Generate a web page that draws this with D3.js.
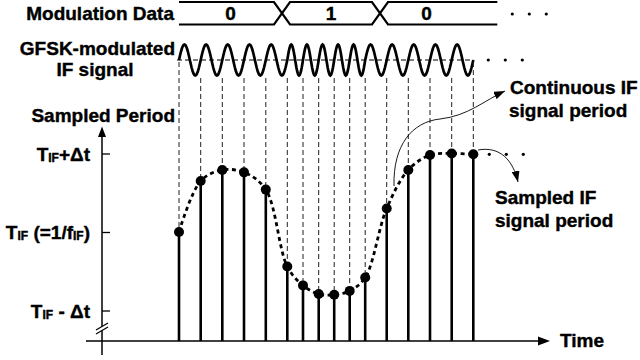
<!DOCTYPE html>
<html>
<head>
<meta charset="utf-8">
<script src="https://cdn.jsdelivr.net/npm/d3@7"></script>
<style>
  body { margin: 0; background: #fff; }
  text { font-family: "Liberation Sans", Arial, sans-serif; font-weight: bold; fill: #000; stroke: #000; stroke-width: 0.4px; }
</style>
</head>
<body>
<svg id="chart" width="640" height="360"></svg>
<script>
// sample instants, in bit periods counted from the first sample
var sampleTimes = [0, 0.217, 0.433, 0.65, 0.868, 1.083, 1.24, 1.397, 1.552, 1.707, 1.862, 2.077, 2.293, 2.51, 2.727, 2.943];
// sampled IF period, in units of delta t around T_IF
var sampledPeriod = [0, 0.65, 0.79, 0.76, 0.54, -0.44, -0.68, -0.79, -0.8, -0.75, -0.58, 0.3, 0.79, 0.98, 1.0, 0.99];
// modulation bits and where each bit starts
var bits = ["0", "1", "0"];
var bitEdges = [0, 1.03, 2.01];
// y ticks: label pieces, odd pieces are subscripts
var tickValues = [1, 0, -1];
var tickLabels = [["T", "IF", "+\u0394t"], ["T", "IF", " (=1/f", "IF", ")"], ["T", "IF", " - \u0394t"]];

var svg = d3.select("#chart");
var x = d3.scaleLinear().domain([-0.77, 3.71]).range([102, 550]);
var y = d3.scaleLinear().domain([-1, 1]).range([310.5, 153.5]);
var waveY = d3.scaleLinear().domain([-1, 1]).range([75.5, 44.5]);
var x0 = x(-0.77), axisY = y(-1) + 30.5;
var tFirst = sampleTimes[0], tLast = sampleTimes[sampleTimes.length - 1];

svg.append("defs").append("marker")
  .attr("id", "arr").attr("markerUnits", "userSpaceOnUse")
  .attr("markerWidth", 11).attr("markerHeight", 8)
  .attr("refX", 11).attr("refY", 4).attr("orient", "auto")
  .append("path").attr("d", "M0,0L11,4L0,8Z").attr("fill", "#000");

// ---- modulation data bus ----
var busTop = 2, busBot = 24.5, hw = 8;
var busEnd = x(tLast) + 24;
function busPath(up) {
  var a = up ? busTop : busBot, b = up ? busBot : busTop;
  var p = "M" + x(bitEdges[0]) + "," + a;
  for (var i = 1; i < bitEdges.length; i++) {
    var xc = x(bitEdges[i]);
    p += "H" + (xc - hw) + "L" + (xc + hw) + "," + b;
    var t = a; a = b; b = t;
  }
  return p + "H" + busEnd;
}
svg.append("path").attr("d", busPath(true)).attr("fill", "none").attr("stroke", "#000").attr("stroke-width", 2.2);
svg.append("path").attr("d", busPath(false)).attr("fill", "none").attr("stroke", "#000").attr("stroke-width", 2.2);
svg.selectAll(".bit").data(bits).enter().append("text")
  .attr("x", function (d, i) {
    var e = i + 1 < bitEdges.length ? bitEdges[i + 1] : tLast;
    return (x(bitEdges[i]) + x(e)) / 2;
  })
  .attr("y", 20).attr("text-anchor", "middle").style("font-size", "19px").text(function (d) { return d; });

// ---- GFSK IF wave: one period between consecutive samples ----
var wavePts = [];
for (var i = 0; i < sampleTimes.length - 1; i++) {
  for (var k = 0; k < 24; k++) {
    var f = k / 24;
    wavePts.push([x(sampleTimes[i] + (sampleTimes[i + 1] - sampleTimes[i]) * f), waveY(Math.sin(2 * Math.PI * f))]);
  }
}
wavePts.push([x(tLast), waveY(0)]);
svg.append("line").attr("x1", x(tFirst) - 2).attr("x2", x(tLast)).attr("y1", waveY(0)).attr("y2", waveY(0))
  .attr("stroke", "#000").attr("stroke-width", 1).attr("stroke-dasharray", "5,3");
svg.append("path").attr("d", d3.line()(wavePts)).attr("fill", "none").attr("stroke", "#000").attr("stroke-width", 2.7);

// ---- axes ----
svg.append("line").attr("x1", x0).attr("x2", x0).attr("y1", axisY + 14).attr("y2", 135)
  .attr("stroke", "#000").attr("stroke-width", 1.5);
svg.append("path").attr("d", "M" + x0 + ",126.5l4,10.5h-8z").attr("fill", "#000");
svg.append("line").attr("x1", x(-0.93)).attr("x2", x(3.62)).attr("y1", axisY).attr("y2", axisY)
  .attr("stroke", "#000").attr("stroke-width", 1.5);
svg.append("path").attr("d", "M" + x(3.71) + "," + axisY + "l-12,-4.5v9z").attr("fill", "#000");

var yAxis = d3.axisRight(y).tickValues(tickValues).tickSize(8).tickFormat("");
var gy = svg.append("g").attr("transform", "translate(" + x0 + ",0)").call(yAxis);
gy.select(".domain").remove();
gy.selectAll("line").attr("stroke-width", 1.3);

// axis break
var by = axisY - 13;
svg.append("path").attr("d", "M" + (x0 - 6) + "," + (by + 2) + "L" + (x0 + 6) + "," + (by - 5) + "L" + (x0 + 6) + "," + (by - 1) + "L" + (x0 - 6) + "," + (by + 6) + "Z")
  .attr("fill", "#fff");
svg.append("line").attr("x1", x0 - 6).attr("y1", by + 2).attr("x2", x0 + 6).attr("y2", by - 5).attr("stroke", "#000").attr("stroke-width", 1.2);
svg.append("line").attr("x1", x0 - 6).attr("y1", by + 6).attr("x2", x0 + 6).attr("y2", by - 1).attr("stroke", "#000").attr("stroke-width", 1.2);

// tick labels
var tl = svg.selectAll(".tl").data(tickValues).enter().append("text")
  .attr("x", x0 - 12).attr("y", function (d) { return y(d) + 7; })
  .attr("text-anchor", "end").style("font-size", "19px");
tl.each(function (d, i) {
  var t = d3.select(this);
  tickLabels[i].forEach(function (s, j) {
    var sub = j % 2 === 1;
    t.append("tspan").style("font-size", sub ? "12px" : "19px")
      .attr("dy", sub ? 1 : (j > 0 ? -1 : 0)).text(s);
  });
});

// ---- samples ----
var samples = sampleTimes.map(function (t, i) { return { t: t, v: sampledPeriod[i] }; });
svg.selectAll(".guide").data(samples).enter().append("line")
  .attr("x1", function (d) { return x(d.t); }).attr("x2", function (d) { return x(d.t); })
  .attr("y1", function (d, i) { return (i === 0 || i === samples.length - 1) ? waveY(0) + 2 : 78; })
  .attr("y2", function (d) { return y(d.v) - 4; })
  .attr("stroke", "#222").attr("stroke-width", 1).attr("stroke-dasharray", "5,3");
svg.selectAll(".stem").data(samples).enter().append("line")
  .attr("x1", function (d) { return x(d.t); }).attr("x2", function (d) { return x(d.t); })
  .attr("y1", function (d) { return y(d.v); }).attr("y2", axisY)
  .attr("stroke", "#000").attr("stroke-width", 2.6);
svg.append("path")
  .attr("d", d3.line().x(function (d) { return x(d.t); }).y(function (d) { return y(d.v); })
    .curve(d3.curveCatmullRom.alpha(0.5))(samples))
  .attr("fill", "none").attr("stroke", "#000").attr("stroke-width", 2.8).attr("stroke-dasharray", "4,3.5");
svg.selectAll(".dot").data(samples).enter().append("circle")
  .attr("cx", function (d) { return x(d.t); }).attr("cy", function (d) { return y(d.v); })
  .attr("r", 5).attr("fill", "#000");

// continuation dots
function moreDots(cx, cy, r) {
  [0, 1, 2].forEach(function (k) {
    svg.append("circle").attr("cx", cx + k * 17).attr("cy", cy).attr("r", r).attr("fill", "#000");
  });
}
moreDots(busEnd + 15, 14, 1.6);
moreDots(x(tLast) + 15, waveY(0), 1.6);
moreDots(x(tLast) + 16, y(sampledPeriod[sampledPeriod.length - 1]), 1.6);

// ---- labels ----
function label(txt, lx, ly, anchor) {
  svg.append("text").attr("x", lx).attr("y", ly).attr("text-anchor", anchor || "start")
    .style("font-size", "19px").text(txt);
}
label("Modulation Data", 174, 20, "end");
label("GFSK-modulated", 175, 55, "end");
label("IF signal", 95, 75.5, "middle");
label("Sampled Period", 175, 121.5, "end");
label("Time", 560, 347);
label("Continuous IF", 510, 93.5);
label("signal period", 509, 117);
label("Sampled IF", 495, 203.5);
label("signal period", 495, 226.5);

// annotation arrows
svg.append("path").attr("d", "M394,186C393,145 412,122 440,119S485,100 505,91")
  .attr("fill", "none").attr("stroke", "#000").attr("stroke-width", 0.9).attr("marker-end", "url(#arr)");
svg.append("path").attr("d", "M478,150C500,146 513,160 518,182")
  .attr("fill", "none").attr("stroke", "#000").attr("stroke-width", 0.9).attr("marker-end", "url(#arr)");
</script>
</body>
</html>
